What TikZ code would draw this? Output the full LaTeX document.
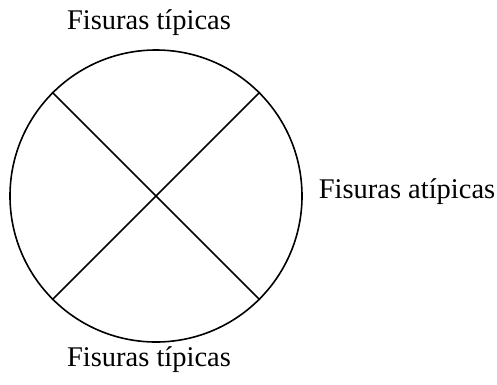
\documentclass[tikz,border=0pt]{standalone}
\usepackage{fontspec}
\setmainfont{Liberation Serif}
\begin{document}
\begin{tikzpicture}[x=1pt,y=-1pt,
  lbl/.style={font=\fontsize{28.5}{32}\selectfont, inner sep=0pt, anchor=base},
  ln/.style={line width=1.6pt}]
\useasboundingbox (0,0) rectangle (497,384);
\coordinate (c) at (156,196);
\node[ln,draw,circle,minimum size=292pt,inner sep=0pt] (circ) at (c) {};
\draw[ln] (circ.45) -- (circ.225);
\draw[ln] (circ.135) -- (circ.315);
\node[lbl] (t) at (149,29) {Fisuras típicas};
\node[lbl] (b) at (149,366) {Fisuras típicas};
\node[lbl] (r) at (407,198) {Fisuras atípicas};
\end{tikzpicture}
\end{document}
